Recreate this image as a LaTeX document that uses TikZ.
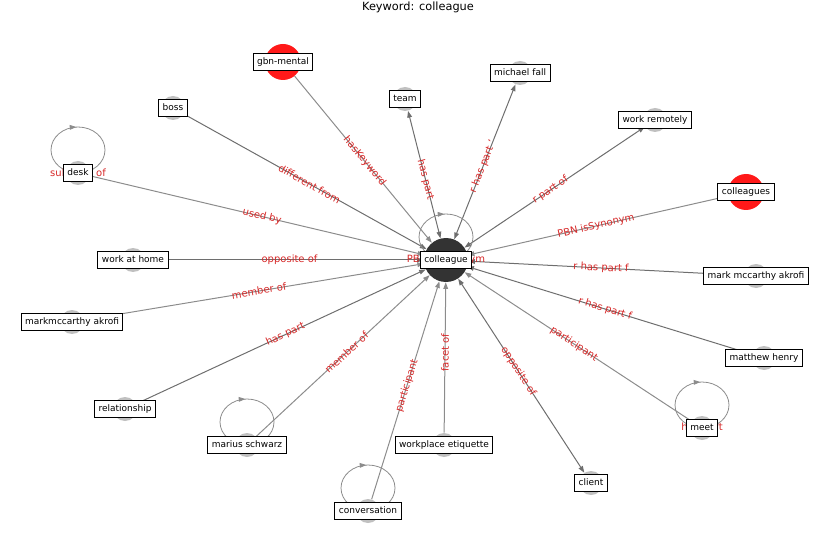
\documentclass[tikz,border=0pt]{standalone}
\usepackage{fontspec}
\setmainfont{DejaVu Sans}
\usetikzlibrary{calc}
\usetikzlibrary{arrows.meta}
\usetikzlibrary{backgrounds}
\usetikzlibrary{decorations.markings}
\tikzset{>={Triangle[length=5pt,width=3.5pt]}}
\definecolor{lblred}{RGB}{214,40,40}
\definecolor{hubgray}{RGB}{51,51,51}
\definecolor{nodegray}{RGB}{192,192,192}
\definecolor{hotred}{RGB}{255,25,25}
\tikzset{vertex/.style = {shape=circle,fill=nodegray,minimum size=18pt,inner sep=0pt}}
\tikzset{hotvertex/.style = {shape=circle,fill=hotred,minimum size=27pt,inner sep=0pt}}
\tikzset{hub/.style = {shape=circle,fill=hubgray,minimum size=33pt,inner sep=0pt}}
\tikzset{tag/.style = {draw=black,fill=white,line width=0.75pt,font=\fontsize{6.75}{8}\selectfont,inner xsep=3pt,inner ysep=3pt,text height=5.1pt,text depth=1.4pt}}
\tikzset{link/.style = {black!45,line width=0.75pt}}
\tikzset{darklink/.style = {black!57,line width=0.75pt}}
\tikzset{elabel/.style = {sloped,font=\fontsize{7.5}{9}\selectfont,text=lblred,inner sep=0pt}}
\tikzset{selfloop/.style = {black!45,line width=0.6pt,postaction={decorate},decoration={markings,mark=at position 0.74 with {\arrow{>}}}}}

\begin{document}
\begin{tikzpicture}[x=0.75pt,y=-0.75pt]
                    \useasboundingbox (0,0) rectangle (837,559);
                    \node[font=\fontsize{8.5}{10}\selectfont] (title) at (418,7) {Keyword: colleague};

                    \node[hub] (colleague) at (446,260) {};
                    \node[hotvertex] (gbnmental) at (283,62) {};
                    \node[vertex] (boss) at (173,108) {};
                    \node[vertex] (desk) at (78,173) {};
                    \node[vertex] (team) at (405,99) {};
                    \node[vertex] (michaelfall) at (520,73) {};
                    \node[vertex] (workremotely) at (655,120) {};
                    \node[hotvertex] (colleagues) at (746,192) {};
                    \node[vertex] (markakrofi) at (756,276) {};
                    \node[vertex] (matthew) at (764,358) {};
                    \node[vertex] (meet) at (702,428) {};
                    \node[vertex] (client) at (591,483) {};
                    \node[vertex] (etiquette) at (444,445) {};
                    \node[vertex] (conversation) at (368,511) {};
                    \node[vertex] (marius) at (247,445) {};
                    \node[vertex] (relationship) at (125,409) {};
                    \node[vertex] (markmccarthy) at (72,322) {};
                    \node[vertex] (workhome) at (133,260) {};

                    \begin{scope}[on background layer]
                    \draw[link,->] (gbnmental) -- (colleague);
                    \draw[darklink,->] (boss) -- (colleague);
                    \draw[link,->] (desk) -- (colleague);
                    \draw[darklink,<->] (team) -- (colleague);
                    \draw[darklink,<->] (michaelfall) -- (colleague);
                    \draw[darklink,<->] (workremotely) -- (colleague);
                    \draw[link,->] (colleagues) -- (colleague);
                    \draw[darklink,->] (markakrofi) -- (colleague);
                    \draw[darklink,->] (matthew) -- (colleague);
                    \draw[link,->] (meet) -- (colleague);
                    \draw[darklink,<->] (client) -- (colleague);
                    \draw[link,->] (etiquette) -- (colleague);
                    \draw[link,->] (conversation) -- (colleague);
                    \draw[link,->] (marius) -- (colleague);
                    \draw[darklink,->] (relationship) -- (colleague);
                    \draw[link,->] (markmccarthy) -- (colleague);
                    \draw[darklink,->] (workhome) -- (colleague);

                    \draw[selfloop] ($(colleague)+(0,-23)$) ellipse (27 and 23);
                    \draw[selfloop] ($(desk)+(0,-23)$) ellipse (27 and 23);
                    \draw[selfloop] ($(meet)+(0,-23)$) ellipse (27 and 23);
                    \draw[selfloop] ($(marius)+(0,-23)$) ellipse (27 and 23);
                    \draw[selfloop] ($(conversation)+(0,-23)$) ellipse (27 and 23);
                    \end{scope}

                    \path (gbnmental.center) -- node[elabel] {hasKeyword} (colleague.center);
                    \path (boss.center) -- node[elabel] {different from} (colleague.center);
                    \path (desk.center) -- node[elabel] {used by} (colleague.center);
                    \path (team.center) -- node[elabel] {has part} (colleague.center);
                    \path (michaelfall.center) -- node[elabel] {r has part '} (colleague.center);
                    \path (workremotely.center) -- node[elabel] {r part of} (colleague.center);
                    \path (colleagues.center) -- node[elabel] {PBN isSynonym} (colleague.center);
                    \path (markakrofi.center) -- node[elabel] {r has part f} (colleague.center);
                    \path (matthew.center) -- node[elabel] {r has part f} (colleague.center);
                    \path (meet.center) -- node[elabel] {participant} (colleague.center);
                    \path (client.center) -- node[elabel] {opposite of} (colleague.center);
                    \path (etiquette.center) -- node[elabel] {facet of} (colleague.center);
                    \path (conversation.center) -- node[elabel] {participant} (colleague.center);
                    \path (marius.center) -- node[elabel] {member of} (colleague.center);
                    \path (relationship.center) -- node[elabel] {has part} (colleague.center);
                    \path (markmccarthy.center) -- node[elabel] {member of} (colleague.center);
                    \path (workhome.center) -- node[elabel] {opposite of} (colleague.center);
                    \node[elabel] (hubloop) at (colleague) {PBN isSynonym};
                    \node[elabel] (deskloop) at (desk) {subclass of};
                    \node[elabel] (meetloop) at (meet) {has part};

                    \node[tag] (colleague-l) at (colleague) {colleague};
                    \node[tag] (gbnmental-l) at (gbnmental) {gbn-mental};
                    \node[tag] (boss-l) at (boss) {boss};
                    \node[tag] (desk-l) at (desk) {desk};
                    \node[tag] (team-l) at (team) {team};
                    \node[tag] (michaelfall-l) at (michaelfall) {michael fall};
                    \node[tag] (workremotely-l) at (workremotely) {work remotely};
                    \node[tag] (colleagues-l) at (colleagues) {colleagues};
                    \node[tag] (markakrofi-l) at (markakrofi) {mark mccarthy akrofi};
                    \node[tag] (matthew-l) at (matthew) {matthew henry};
                    \node[tag] (meet-l) at (meet) {meet};
                    \node[tag] (client-l) at (client) {client};
                    \node[tag] (etiquette-l) at (etiquette) {workplace etiquette};
                    \node[tag] (conversation-l) at (conversation) {conversation};
                    \node[tag] (marius-l) at (marius) {marius schwarz};
                    \node[tag] (relationship-l) at (relationship) {relationship};
                    \node[tag] (markmccarthy-l) at (markmccarthy) {markmccarthy akrofi};
                    \node[tag] (workhome-l) at (workhome) {work at home};
                \end{tikzpicture}
\end{document}
